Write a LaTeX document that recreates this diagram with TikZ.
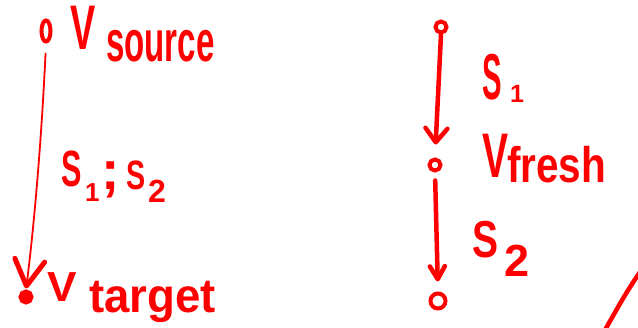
\documentclass[tikz,border=0pt]{standalone}
\usepackage{fontspec}
\setmainfont{Liberation Sans}
\usetikzlibrary{arrows.meta,shapes.geometric}
\definecolor{ink}{RGB}{255,0,0}
\newcommand{\hw}[3]{\scalebox{#2}[1]{\fontsize{#1}{#1}\selectfont\bfseries #3}}
\begin{document}
\begin{tikzpicture}[x=1pt,y=-1pt,
  lbl/.style={inner sep=0pt, outer sep=0pt, anchor=base west, text=ink},
  dotnode/.style={draw=ink, circle, line width=4pt, inner sep=0pt},
  pen/.style={draw=ink, line width=4.5pt, line cap=round, line join=round},
  thinpen/.style={draw=ink, line width=1.8pt, line cap=round},
  barb/.style={-{Straight Barb[length=14pt,width=22pt,round]}},
]
\useasboundingbox (0,0) rectangle (638,328);

% left column
\node[dotnode, ellipse, minimum width=9pt, minimum height=21pt] (c1) at (46,31) {};
\node[dotnode, fill=ink, line width=4pt, minimum size=11pt] (c2) at (26,297) {};
\draw[thinpen, -{Straight Barb[length=26pt,width=30pt,round,line width=5pt 0]}, shorten <=10pt, shorten >=1pt]
  (c1.south) .. controls (41,150) and (33,235) .. (c2.north);

\node[lbl] (vs) at (70,50) {\hw{63}{0.6}{V}};
\node[lbl] (src) at (106,62) {\hw{58}{0.57}{source}};

\node[lbl] (s1a) at (61,187) {\hw{51}{0.6}{S}};
\node[lbl] (s1b) at (85,202) {\hw{26}{1}{1}};
\node[lbl] (semi) at (101,190) {\hw{55}{1}{;}};
\node[lbl] (s2a) at (126,190) {\hw{41}{0.7}{S}};
\node[lbl] (s2b) at (148,203) {\hw{32}{1}{2}};

\node[lbl] (vt) at (47,302) {\hw{42}{1.05}{V}};
\node[lbl] (tgt) at (89,313) {\hw{48}{0.95}{target}};

% right column
\node[dotnode, minimum size=11pt] (r1) at (441,27) {};
\node[dotnode, minimum size=11pt] (r2) at (435,165) {};
\node[dotnode, minimum size=15pt] (r3) at (438,301) {};

\draw[pen, barb, shorten >=13pt] (r1.south) -- (r2.north);
\draw[pen, -{Straight Barb[length=13pt,width=15pt,round]}, shorten <=8pt, shorten >=10pt] (r2.south) -- (r3.north);

\node[lbl] (rs1) at (482,100) {\hw{65}{0.45}{S}};
\node[lbl] (rs1b) at (510,103) {\hw{25}{1}{1}};

\node[lbl] (vf) at (482,178) {\hw{63}{0.62}{V}};
\node[lbl] (fr) at (507,183) {\hw{50}{0.81}{fresh}};

\node[lbl] (rs2) at (472,258) {\hw{52}{0.75}{S}};
\node[lbl] (rs2b) at (504,277) {\hw{45}{1}{2}};

% stray stroke
\draw[pen] (640,272) .. controls (626,293) .. (605,330);
\end{tikzpicture}
\end{document}
